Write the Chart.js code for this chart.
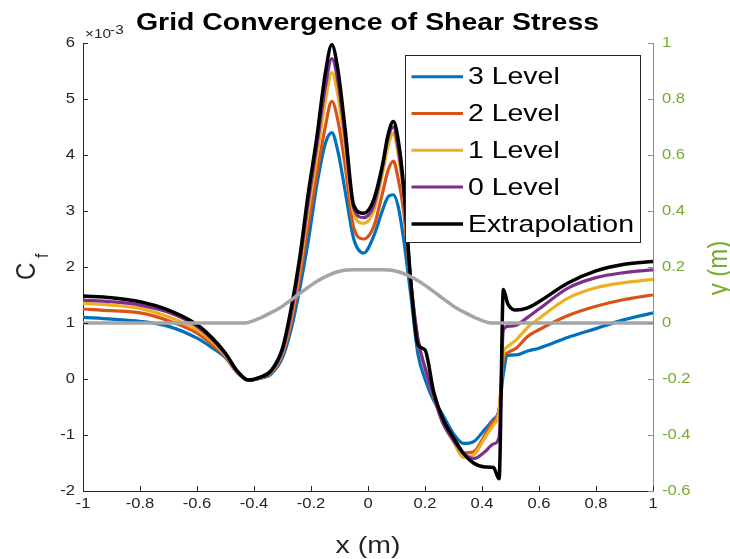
<!DOCTYPE html>
<html>
<head>
<meta charset="utf-8">
<script src="https://cdn.jsdelivr.net/npm/chart.js@4.4.0/dist/chart.umd.min.js"></script>
<style>
  html, body { margin:0; padding:0; background:#fff; }
  #wrap { width:730px; height:559px; }
</style>
</head>
<body>
<div id="wrap"><canvas id="cfChart" width="730" height="559"></canvas></div>
<script>
// x stations along the wall (m), shared by all Cf series
const xStations = [-1, -0.9, -0.8, -0.7, -0.6, -0.55, -0.5, -0.46, -0.42, -0.38, -0.34, -0.3, -0.27, -0.24, -0.21, -0.18, -0.15, -0.127, -0.105, -0.08, -0.05, -0.015, 0.02, 0.05, 0.07, 0.089, 0.105, 0.125, 0.15, 0.175, 0.2, 0.23, 0.26, 0.3, 0.335, 0.37, 0.41, 0.44, 0.46, 0.475, 0.49, 0.52, 0.56, 0.6, 0.7, 0.8, 0.9, 1];

// skin friction, in units of 1e-3
const cfLevel3 = [1.1, 1.07, 1.03, 0.94, 0.73, 0.57, 0.38, 0.12, -0.02, 0.01, 0.09, 0.38, 0.88, 1.6, 2.45, 3.45, 4.2, 4.4, 4.05, 3.35, 2.5, 2.25, 2.55, 3.0, 3.25, 3.29, 3.1, 2.5, 1.5, 0.45, 0.0, -0.38, -0.62, -0.98, -1.15, -1.12, -0.9, -0.72, -0.55, 0.1, 0.42, 0.43, 0.5, 0.55, 0.74, 0.9, 1.06, 1.18];
const cfLevel2 = [1.25, 1.22, 1.18, 1.04, 0.82, 0.63, 0.4, 0.12, -0.02, 0.02, 0.11, 0.44, 1.0, 1.8, 2.75, 3.65, 4.5, 4.96, 4.6, 3.8, 2.7, 2.5, 2.72, 3.3, 3.72, 3.89, 3.6, 3.0, 1.7, 0.7, 0.2, -0.3, -0.75, -1.1, -1.32, -1.3, -1.0, -0.75, -0.55, 0.35, 0.47, 0.55, 0.76, 0.88, 1.13, 1.3, 1.42, 1.5];
const cfLevel1 = [1.35, 1.32, 1.26, 1.11, 0.88, 0.68, 0.42, 0.13, -0.02, 0.02, 0.12, 0.47, 1.08, 1.95, 3.0, 3.95, 4.95, 5.47, 5.05, 4.15, 2.95, 2.78, 3.0, 3.65, 4.15, 4.39, 4.05, 3.3, 1.75, 0.72, 0.2, -0.3, -0.75, -1.12, -1.4, -1.36, -1.05, -0.82, -0.58, 0.45, 0.58, 0.7, 0.92, 1.08, 1.44, 1.63, 1.72, 1.78];
const cfLevel0 = [1.41, 1.38, 1.32, 1.19, 0.94, 0.72, 0.44, 0.14, -0.02, 0.02, 0.13, 0.5, 1.15, 2.05, 3.15, 4.15, 5.2, 5.72, 5.3, 4.3, 3.05, 2.88, 3.1, 3.75, 4.3, 4.5, 4.15, 3.35, 1.75, 0.72, 0.2, -0.3, -0.75, -1.1, -1.33, -1.42, -1.3, -1.16, -1.04, 0.88, 0.94, 0.96, 1.1, 1.25, 1.62, 1.81, 1.9, 1.95];
const cfExtrap = [1.48, 1.45, 1.38, 1.23, 0.97, 0.75, 0.46, 0.15, -0.02, 0.03, 0.15, 0.55, 1.25, 2.15, 3.3, 4.3, 5.45, 5.97, 5.5, 4.45, 3.1, 2.96, 3.2, 3.8, 4.35, 4.6, 4.3, 3.45, 1.75, 0.62, 0.52, -0.22, -0.68, -1.05, -1.33, -1.5, -1.57, -1.58, -1.78, 1.6, 1.35, 1.23, 1.27, 1.38, 1.71, 1.93, 2.05, 2.1];

// wall geometry y(x), right axis (m)
const xGeom = [-1, -0.45, -0.42, -0.38, -0.34, -0.3, -0.26, -0.22, -0.18, -0.14, -0.1, -0.05, 0, 0.05, 0.1, 0.14, 0.18, 0.22, 0.26, 0.3, 0.34, 0.38, 0.42, 0.45, 1];
const yGeom = [0, 0, 0.002, 0.017, 0.037, 0.06, 0.09, 0.12, 0.148, 0.17, 0.185, 0.19, 0.19, 0.19, 0.185, 0.17, 0.148, 0.12, 0.09, 0.06, 0.037, 0.017, 0.002, 0, 0];

const seriesNames = ['3 Level', '2 Level', '1 Level', '0 Level', 'Extrapolation'];
const xTicks = [-1, -0.8, -0.6, -0.4, -0.2, 0, 0.2, 0.4, 0.6, 0.8, 1];
const cfTicks = [-2, -1, 0, 1, 2, 3, 4, 5, 6];
const yTicks = [-0.6, -0.4, -0.2, 0, 0.2, 0.4, 0.6, 0.8, 1];

const COLORS = ['#0072BD', '#D95319', '#EDB120', '#7E2F8E', '#000000'];
const GEOM_COLOR = '#A5A5A5';
const GREEN = '#77AC30';
const AXIS = '#262626';
const FONT = '"Liberation Sans", Arial, sans-serif';
const SX = 1.185; // the original lettering is stretched sideways

function pts(xs, ys){ return xs.map((x, i) => ({ x: x, y: ys[i] })); }

function txt(ctx, s, x, y, font, color, align, base, rot){
  ctx.save();
  ctx.translate(x, y);
  if (rot){ ctx.rotate(rot); ctx.scale(1, SX); } else ctx.scale(SX, 1);
  ctx.font = font;
  ctx.fillStyle = color;
  ctx.textAlign = align || 'left';
  ctx.textBaseline = base || 'alphabetic';
  ctx.fillText(s, 0, 0);
  ctx.restore();
}

const decor = {
  id: 'decor',
  afterDraw(chart){
    const ctx = chart.ctx;
    const a = chart.chartArea;
    const sx = chart.scales.x, sy = chart.scales.y, sy2 = chart.scales.y2;

    // inward tick marks + labels
    ctx.save();
    ctx.lineWidth = 1;
    ctx.strokeStyle = AXIS;
    ctx.beginPath();
    xTicks.forEach(v => {
      const px = Math.round(sx.getPixelForValue(v)) + 0.5;
      ctx.moveTo(px, a.bottom); ctx.lineTo(px, a.bottom - 5);
    });
    cfTicks.forEach(v => {
      const py = Math.round(sy.getPixelForValue(v)) + 0.5;
      ctx.moveTo(a.left, py); ctx.lineTo(a.left + 5, py);
    });
    ctx.stroke();
    ctx.strokeStyle = GREEN;
    ctx.beginPath();
    yTicks.forEach(v => {
      const py = Math.round(sy2.getPixelForValue(v)) + 0.5;
      ctx.moveTo(a.right, py); ctx.lineTo(a.right - 5, py);
    });
    ctx.stroke();
    ctx.restore();

    const tf = '14px ' + FONT;
    xTicks.forEach(v => txt(ctx, String(v), sx.getPixelForValue(v), a.bottom + 13, tf, AXIS, 'center', 'middle'));
    cfTicks.forEach(v => txt(ctx, String(v), a.left - 8, sy.getPixelForValue(v), tf, AXIS, 'right', 'middle'));
    yTicks.forEach(v => txt(ctx, String(v), a.right + 9, sy2.getPixelForValue(v), tf, GREEN, 'left', 'middle'));

    // exponent marker
    txt(ctx, '\u00d710', a.left + 2, 38, '13px ' + FONT, AXIS, 'left');
    txt(ctx, '-3', a.left + 27, 34, '13px ' + FONT, AXIS, 'left');

    // title and axis titles
    txt(ctx, 'Grid Convergence of Shear Stress', 367.5, 30, 'bold 24px ' + FONT, '#000', 'center');
    txt(ctx, 'x (m)', 368, 553, '24px ' + FONT, AXIS, 'center');
    txt(ctx, 'C', 35, 280, '24px ' + FONT, AXIS, 'left', 'alphabetic', -Math.PI / 2);
    txt(ctx, 'f', 48, 258, '16px ' + FONT, AXIS, 'left', 'alphabetic', -Math.PI / 2);
    txt(ctx, 'y (m)', 727, 268, '24px ' + FONT, GREEN, 'center', 'alphabetic', -Math.PI / 2);

    // legend box
    const lx = 405.5, ly = 55.5, lw = 235, lh = 187;
    ctx.save();
    ctx.fillStyle = '#fff';
    ctx.fillRect(lx, ly, lw, lh);
    ctx.strokeStyle = AXIS;
    ctx.lineWidth = 1;
    ctx.strokeRect(lx, ly, lw, lh);
    seriesNames.forEach((name, i) => {
      const cy = 76.7 + i * 36.8;
      ctx.strokeStyle = COLORS[i];
      ctx.lineWidth = i === 4 ? 3.5 : 3;
      ctx.beginPath();
      ctx.moveTo(411.5, cy); ctx.lineTo(463, cy);
      ctx.stroke();
      txt(ctx, name, 468, cy + 1, '24px ' + FONT, '#000', 'left', 'middle');
    });
    ctx.restore();
  }
};

const cfSeries = [cfLevel3, cfLevel2, cfLevel1, cfLevel0, cfExtrap];
const datasets = cfSeries.map((arr, i) => ({
  label: seriesNames[i],
  data: pts(xStations, arr),
  yAxisID: 'y',
  borderColor: COLORS[i],
  borderWidth: i === 4 ? 3.5 : 3.2,
  pointRadius: 0,
  cubicInterpolationMode: 'monotone',
  borderJoinStyle: 'round',
  order: 5 - i
}));
datasets.push({
  label: 'geometry',
  data: pts(xGeom, yGeom),
  yAxisID: 'y2',
  borderColor: GEOM_COLOR,
  borderWidth: 3.5,
  pointRadius: 0,
  cubicInterpolationMode: 'monotone',
  order: -1
});

new Chart(document.getElementById('cfChart'), {
  type: 'line',
  data: { datasets },
  options: {
    responsive: false,
    animation: false,
    events: [],
    layout: { padding: { top: 43, left: 0, right: 0, bottom: 0 } },
    plugins: { legend: { display: false }, title: { display: false }, tooltip: { enabled: false } },
    scales: {
      x: {
        type: 'linear', min: -1, max: 1,
        grid: { display: false },
        border: { display: true, color: AXIS, width: 1 },
        ticks: { display: false },
        afterFit(s){ s.height = 68; }
      },
      y: {
        position: 'left', min: -2, max: 6,
        grid: { display: false },
        border: { display: true, color: AXIS, width: 1 },
        ticks: { display: false },
        afterFit(s){ s.width = 83; }
      },
      y2: {
        position: 'right', min: -0.6, max: 1,
        grid: { display: false },
        border: { display: true, color: GREEN, width: 1 },
        ticks: { display: false },
        afterFit(s){ s.width = 77; }
      }
    }
  },
  plugins: [decor]
});
</script>
</body>
</html>
